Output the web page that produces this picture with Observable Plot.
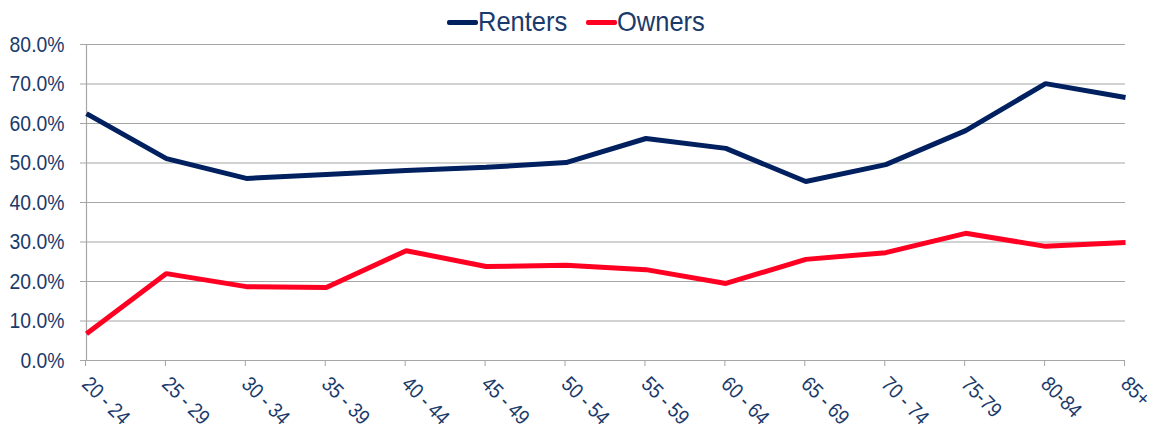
<!DOCTYPE html>
<html><head><meta charset="utf-8">
<script src="https://cdn.jsdelivr.net/npm/d3@7"></script>
<script src="https://cdn.jsdelivr.net/npm/@observablehq/plot@0.6"></script>
<style>
body{margin:0;background:#fff;font-family:"Liberation Sans",Arial,sans-serif;overflow:hidden}
#legend{height:28px;position:relative;z-index:1}
#legend .row{position:absolute;top:6px;left:0;right:0;display:flex;justify-content:center;align-items:center;line-height:32px;gap:19px;color:#1a3a6b;font-size:28px}
#legend .item{display:flex;align-items:center}
#legend .sw{display:inline-block;width:31px;height:5px;border-radius:2px}
#legend .tx{display:inline-block;transform:scaleX(0.91);transform-origin:0 50%;margin-right:-9px}
#chart svg{overflow:visible;display:block}
</style></head>
<body>
<div id="legend"><div class="row"></div></div>
<div id="chart"></div>
<script>
const ageGroups = ["20 - 24","25 - 29","30 - 34","35 - 39","40 - 44","45 - 49","50 - 54","55 - 59","60 - 64","65 - 69","70 - 74","75-79","80-84","85+"];
const renters = [0.625,0.511,0.461,0.471,0.481,0.489,0.501,0.562,0.537,0.453,0.496,0.582,0.701,0.666];
const owners  = [0.068,0.220,0.187,0.185,0.278,0.238,0.241,0.230,0.195,0.256,0.273,0.322,0.289,0.299];
const seriesNames = ["Renters","Owners"];
const seriesColors = ["#002060","#ff0022"];
const yTicks = [0,0.1,0.2,0.3,0.4,0.5,0.6,0.7,0.8];

const textColor = "#1a3a6b";
const gridColor = "#a6a6a6";

const row = document.querySelector("#legend .row");
seriesNames.forEach((s,i)=>{
  const it = document.createElement("span"); it.className="item";
  const sw = document.createElement("span"); sw.className="sw"; sw.style.background=seriesColors[i];
  const t = document.createElement("span"); t.className="tx"; t.textContent=s;
  it.appendChild(sw); it.appendChild(t); row.appendChild(it);
});

const data = [];
ageGroups.forEach((a,i)=>{
  data.push({age:a, value:renters[i], series:"Renters"});
  data.push({age:a, value:owners[i], series:"Owners"});
});

const chart = Plot.plot({
  width: 1152,
  height: 406,
  marginLeft: 86,
  marginRight: 27,
  marginTop: 16,
  marginBottom: 74,
  style: {fontFamily: '"Liberation Sans",Arial,sans-serif', fontSize: "22px", background: "transparent"},
  x: {type: "point", domain: ageGroups, padding: 0, round: false},
  y: {domain: [0, 0.8], label: null},
  color: {domain: seriesNames, range: seriesColors},
  marks: [
    Plot.gridY(yTicks, {stroke: gridColor, strokeOpacity: 1, strokeWidth: 1.2}),
    Plot.ruleX([ageGroups[0]], {stroke: gridColor, strokeWidth: 1.2}),
    Plot.ruleY([0], {stroke: gridColor, strokeWidth: 1.2}),
    Plot.axisY(yTicks, {tickSize: 6, tickPadding: 16, tickFormat: d3.format(".1%"), stroke: gridColor, fill: textColor, fontSize: 22, label: null}),
    Plot.axisX({tickSize: 6, tickPadding: 14, dx: -1, tickRotate: 45, stroke: gridColor, fill: textColor, fontSize: 21, label: null}),
    Plot.line(data, {x: "age", y: "value", z: "series", stroke: "series", strokeWidth: 5, strokeLinejoin: "miter", strokeLinecap: "butt"})
  ]
});
document.getElementById("chart").appendChild(chart);

// condense tick label glyphs slightly (the reference uses a narrow face)
chart.querySelectorAll('g[aria-label$="tick label"] text').forEach(t=>{
  const len = t.getComputedTextLength();
  t.setAttribute("textLength", (len*0.88).toFixed(1));
  t.setAttribute("lengthAdjust","spacingAndGlyphs");
});
</script>
</body></html>
